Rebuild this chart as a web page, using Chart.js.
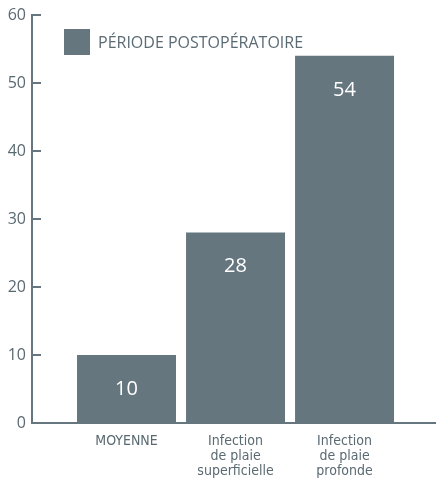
<!DOCTYPE html>
<html>
<head>
<meta charset="utf-8">
<script src="https://cdn.jsdelivr.net/npm/chart.js@4.4.0/dist/chart.umd.min.js"></script>
<style>
  html, body { margin: 0; padding: 0; background: #fff; }
  #wrap { position: relative; width: 436px; height: 481px; }
  #legend { position: absolute; left: 64px; top: 29px; height: 26px; display: flex; align-items: center;
    font-family: "Open Sans", sans-serif; font-size: 16px; color: #5b6b74; }
  #legend span.box { display: inline-block; width: 26px; height: 26px; margin-right: 8px; }
</style>
</head>
<body>
<div id="wrap">
  <canvas id="chart" width="436" height="481"></canvas>
  <div id="legend"></div>
</div>
<script>
// chart data
const seriesName = 'PÉRIODE POSTOPÉRATOIRE';
const categories = [['MOYENNE'], ['Infection', 'de plaie', 'superficielle'], ['Infection', 'de plaie', 'profonde']];
const values = [10, 28, 54];
const yTicks = [0, 10, 20, 30, 40, 50, 60];

const barColor = '#65767f';
const axisColor = '#65767f';
const textColor = '#5a6a72';

// legend drawn as html, top left inside the plot
const legend = document.getElementById('legend');
legend.innerHTML = '<span class="box" style="background:' + barColor + '"></span><span>' + seriesName + '</span>';

// white value labels inside each bar
const barValues = {
    id: 'barValues',
    afterDatasetsDraw(chart) {
        const ctx = chart.ctx;
        const meta = chart.getDatasetMeta(0);
        ctx.save();
        ctx.fillStyle = '#ffffff';
        ctx.font = '20px "Open Sans", sans-serif';
        ctx.textAlign = 'center';
        ctx.textBaseline = 'middle';
        meta.data.forEach((bar, i) => {
            ctx.fillText(String(values[i]), bar.x, bar.y + 34);
        });
        ctx.restore();
    }
};

const ctx = document.getElementById('chart').getContext('2d');
new Chart(ctx, {
    type: 'bar',
    data: {
        datasets: [{
            label: seriesName,
            data: values.map((v, i) => ({ x: i, y: v })),
            backgroundColor: barColor,
            borderWidth: 0,
            categoryPercentage: 1,
            barPercentage: 0.908,
        }],
    },
    options: {
        animation: false,
        responsive: false,
        layout: { padding: 0 },
        plugins: {
            legend: { display: false },
            tooltip: { enabled: false },
        },
        scales: {
            x: {
                type: 'linear',
                offset: false,
                min: -0.867,
                max: 2.839,
                afterBuildTicks: (axis) => {
                    axis.ticks = categories.map((c, i) => ({ value: i }));
                },
                afterFit: (axis) => { axis.height = 58; },
                grid: { display: false, drawTicks: false },
                border: { color: axisColor, width: 2 },
                ticks: {
                    autoSkip: false,
                    maxRotation: 0,
                    padding: 11,
                    color: textColor,
                    font: { family: '"Liberation Sans Narrow", "DejaVu Sans Condensed", sans-serif', size: 14, lineHeight: 1.07 },
                    callback: (value) => categories[value],
                },
            },
            y: {
                min: 0,
                max: 60,
                afterBuildTicks: (axis) => {
                    axis.ticks = yTicks.map(v => ({ value: v }));
                },
                afterFit: (axis) => {
                    axis.width = 32;
                    axis.paddingTop = 15;
                    axis.paddingBottom = 0;
                },
                grid: { drawOnChartArea: false, color: axisColor, lineWidth: 2, tickLength: -9 },
                border: { color: axisColor, width: 2 },
                ticks: {
                    padding: 15,
                    color: textColor,
                    font: { family: '"Open Sans", sans-serif', size: 16 },
                },
            },
        },
    },
    plugins: [barValues],
});
</script>
</body>
</html>
